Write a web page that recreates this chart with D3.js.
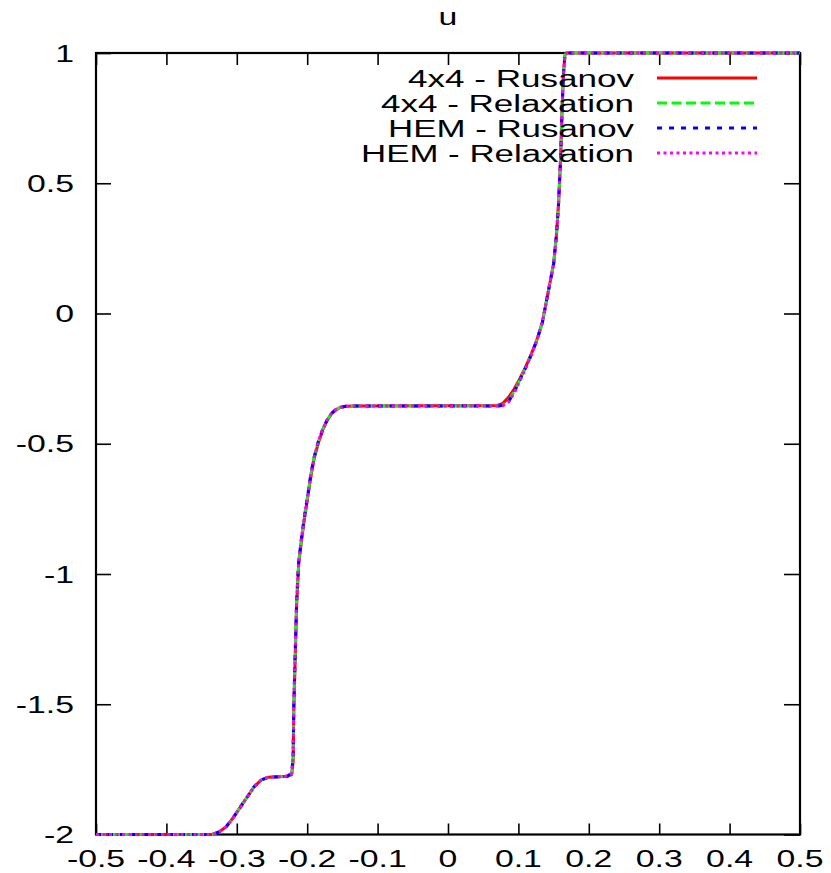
<!DOCTYPE html>
<html>
<head>
<meta charset="utf-8">
<script src="https://cdn.jsdelivr.net/npm/d3@7"></script>
<style>
html,body{margin:0;padding:0;background:#fff;}
text{font-family:"Liberation Sans",Arial,sans-serif;}
</style>
</head>
<body>
<svg id="chart" width="831" height="873"></svg>
<script>
// ---- data ----
const title = "u";
const seriesNames = ["4x4 - Rusanov", "4x4 - Relaxation", "HEM - Rusanov", "HEM - Relaxation"];
const xValues = [-0.5, -0.335, -0.325, -0.315, -0.305, -0.295, -0.285, -0.275, -0.265, -0.255, -0.24, -0.228, -0.222, -0.220, -0.219, -0.217, -0.215, -0.212, -0.208, -0.204, -0.200, -0.195, -0.190, -0.184, -0.178, -0.172, -0.166, -0.160, -0.153, -0.145, -0.13, 0.07, 0.078, 0.086, 0.094, 0.102, 0.110, 0.118, 0.126, 0.134, 0.140, 0.145, 0.150, 0.154, 0.157, 0.160, 0.162, 0.164, 0.166, 0.168, 0.5];
const uRusanov4x4 = [-2, -2, -1.99, -1.97, -1.935, -1.895, -1.855, -1.815, -1.79, -1.78, -1.778, -1.776, -1.77, -1.72, -1.52, -1.32, -1.12, -0.96, -0.87, -0.79, -0.72, -0.63, -0.555, -0.495, -0.448, -0.412, -0.387, -0.371, -0.361, -0.356, -0.355, -0.353, -0.345, -0.322, -0.29, -0.25, -0.207, -0.158, -0.103, -0.034, 0.05, 0.12, 0.19, 0.30, 0.42, 0.60, 0.78, 0.92, 0.99, 1, 1];
const uRelaxation4x4 = [-2, -2, -1.99, -1.97, -1.935, -1.895, -1.855, -1.815, -1.79, -1.78, -1.778, -1.776, -1.765, -1.70, -1.50, -1.30, -1.10, -0.95, -0.86, -0.78, -0.71, -0.62, -0.55, -0.49, -0.445, -0.41, -0.385, -0.37, -0.36, -0.356, -0.355, -0.355, -0.352, -0.335, -0.30, -0.255, -0.21, -0.16, -0.105, -0.035, 0.05, 0.12, 0.19, 0.30, 0.42, 0.60, 0.78, 0.92, 0.99, 1, 1];
const uRusanovHEM = [-2, -2, -1.99, -1.97, -1.935, -1.895, -1.855, -1.815, -1.79, -1.78, -1.778, -1.776, -1.765, -1.70, -1.50, -1.30, -1.10, -0.95, -0.86, -0.78, -0.71, -0.62, -0.55, -0.49, -0.445, -0.41, -0.385, -0.37, -0.36, -0.356, -0.355, -0.355, -0.353, -0.338, -0.302, -0.256, -0.21, -0.16, -0.105, -0.035, 0.05, 0.12, 0.19, 0.30, 0.42, 0.60, 0.78, 0.92, 0.99, 1, 1];
const uRelaxationHEM = [-2, -2, -1.99, -1.97, -1.935, -1.895, -1.855, -1.815, -1.79, -1.78, -1.778, -1.776, -1.765, -1.70, -1.50, -1.30, -1.10, -0.95, -0.86, -0.78, -0.71, -0.62, -0.55, -0.49, -0.445, -0.41, -0.385, -0.37, -0.36, -0.356, -0.355, -0.355, -0.354, -0.34, -0.305, -0.258, -0.212, -0.16, -0.105, -0.035, 0.05, 0.12, 0.19, 0.30, 0.42, 0.60, 0.78, 0.92, 0.99, 1, 1];
const xTicks = [-0.5, -0.4, -0.3, -0.2, -0.1, 0, 0.1, 0.2, 0.3, 0.4, 0.5];
const xTickLabels = ["-0.5", "-0.4", "-0.3", "-0.2", "-0.1", "0", "0.1", "0.2", "0.3", "0.4", "0.5"];
const yTicks = [-2, -1.5, -1, -0.5, 0, 0.5, 1];
const yTickLabels = ["-2", "-1.5", "-1", "-0.5", "0", "0.5", "1"];

const seriesValues = [uRusanov4x4, uRelaxation4x4, uRusanovHEM, uRelaxationHEM];
const colors = ["#ff0000", "#00ff00", "#0000ff", "#ff00ff"];
const dashes = [null, "10,4.5", "5,7", "3,3.5"];

// ---- layout ----
const L = 96, R = 800, T = 53, B = 834.5;
const SX = 1.47, FS = 23;
const svg = d3.select("#chart");
const x = d3.scaleLinear().domain([-0.5, 0.5]).range([L, R]);
const y = d3.scaleLinear().domain([-2, 1]).range([B, T]);

// axes (inward ticks, mirrored)
function styleAxis(g) {
  g.select(".domain").remove();
  g.selectAll(".tick line").attr("stroke", "#000").attr("stroke-width", 1.6);
  g.selectAll(".tick text").remove();
}
svg.append("g").attr("transform", `translate(0,${B})`)
  .call(d3.axisBottom(x).tickValues(xTicks).tickSize(-11).tickSizeOuter(0)).call(styleAxis);
svg.append("g").attr("transform", `translate(0,${T})`)
  .call(d3.axisTop(x).tickValues(xTicks).tickSize(-12).tickSizeOuter(0)).call(styleAxis);
svg.append("g").attr("transform", `translate(${L},0)`)
  .call(d3.axisLeft(y).tickValues(yTicks).tickSize(-15).tickSizeOuter(0)).call(styleAxis);
svg.append("g").attr("transform", `translate(${R},0)`)
  .call(d3.axisRight(y).tickValues(yTicks).tickSize(-16).tickSizeOuter(0)).call(styleAxis);

// border
svg.append("rect").attr("x", L).attr("y", T).attr("width", R - L).attr("height", B - T)
  .attr("fill", "none").attr("stroke", "#000").attr("stroke-width", 2.2);

// tick labels
xTicks.forEach((v, i) => {
  svg.append("text").attr("transform", `translate(${x(v)},867) scale(${SX},1)`)
    .attr("text-anchor", "middle").attr("font-size", FS).text(xTickLabels[i]);
});
yTicks.forEach((v, i) => {
  svg.append("text").attr("transform", `translate(74,${y(v) + 8.5}) scale(${SX},1)`)
    .attr("text-anchor", "end").attr("font-size", FS).text(yTickLabels[i]);
});

// title
svg.append("text").attr("transform", `translate(${(L + R) / 2},25) scale(${SX},1)`)
  .attr("text-anchor", "middle").attr("font-size", FS).text(title);

// lines
const line = d3.line().x(d => x(d[0])).y(d => y(d[1]));
seriesValues.forEach((vals, k) => {
  const pts = xValues.map((xv, i) => [xv, vals[i]]);
  svg.append("path").datum(pts).attr("d", line)
    .attr("fill", "none").attr("stroke", colors[k]).attr("stroke-width", 3)
    .attr("stroke-linejoin", "round")
    .attr("stroke-dasharray", dashes[k]);
});

// legend
const legY = [78, 103, 128, 153];
const legW = [226, 253, 246, 273];
seriesNames.forEach((name, k) => {
  svg.append("text").attr("x", 634 - legW[k]).attr("y", legY[k] + 9)
    .attr("textLength", legW[k]).attr("lengthAdjust", "spacingAndGlyphs")
    .attr("font-size", FS).text(name);
  svg.append("line").attr("x1", 657).attr("x2", 757).attr("y1", legY[k]).attr("y2", legY[k])
    .attr("stroke", colors[k]).attr("stroke-width", 3).attr("stroke-dasharray", dashes[k]);
});
</script>
</body>
</html>
